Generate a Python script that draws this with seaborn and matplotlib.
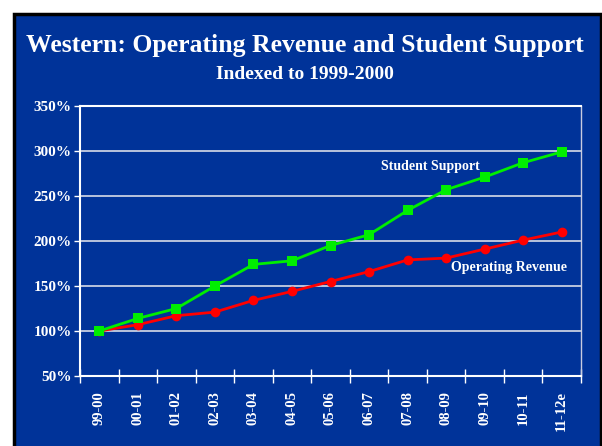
import seaborn as sns
import matplotlib.pyplot as plt
import pandas as pd
from matplotlib.patches import Rectangle
from matplotlib.ticker import FuncFormatter, MultipleLocator

years = ["99-00", "00-01", "01-02", "02-03", "03-04", "04-05", "05-06",
         "06-07", "07-08", "08-09", "09-10", "10-11", "11-12e"]
student_support = [100, 114, 125, 150, 174, 178, 195, 207, 234, 257, 271, 287, 299]
operating_revenue = [100, 107, 117, 121, 134, 144, 155, 166, 179, 181, 191, 201, 210]

df = pd.DataFrame({"year": years, "x": range(len(years)),
                   "Student Support": student_support,
                   "Operating Revenue": operating_revenue})

blue = "#003399"
sns.set_style("white")
plt.rcParams["font.family"] = ["Liberation Serif", "DejaVu Serif"]

fig = plt.figure(figsize=(6.02, 4.46), dpi=100, facecolor="white")
# slide background with dark border
fig.patches.append(Rectangle((14 / 602, -0.01), 587 / 602, 0.99 * 436 / 446 + 0.01,
                             transform=fig.transFigure, facecolor=blue, edgecolor="black",
                             linewidth=2.5, zorder=-10))

ax = fig.add_axes([80 / 602, 70 / 446, 501 / 602, 270 / 446])
ax.set_facecolor(blue)

sns.lineplot(data=df, x="x", y="Operating Revenue", ax=ax, color="#ff0000",
             marker="o", markersize=7, markeredgewidth=0, linewidth=2, zorder=3)
sns.lineplot(data=df, x="x", y="Student Support", ax=ax, color="#00ee00",
             marker="s", markersize=7, markeredgewidth=0, linewidth=2, zorder=4)

ax.set_xlim(-0.5, len(years) - 0.5)
ax.set_ylim(50, 350)
ax.yaxis.set_major_locator(MultipleLocator(50))
ax.yaxis.set_major_formatter(FuncFormatter(lambda v, p: f"{v:.0f}%"))
ax.grid(axis="y", color="#d8dce8", linewidth=1.2)
ax.set_axisbelow(True)

ax.set_xticks(range(len(years)))
ax.set_xticklabels(years, rotation=90)
ax.set_xticks([i - 0.5 for i in range(len(years) + 1)], minor=True)
ax.tick_params(axis="x", which="major", length=0, pad=11, labelsize=10.5, colors="white",
               bottom=True)
ax.tick_params(axis="x", which="minor", length=10, width=1, direction="inout", color="white",
               bottom=True)
ax.tick_params(axis="y", which="major", length=4, width=1, direction="out", color="white",
               labelsize=11, labelcolor="white", left=True, pad=2)
for lab in ax.get_xticklabels() + ax.get_yticklabels():
    lab.set_fontweight("bold")

for side in ["left", "bottom", "top"]:
    ax.spines[side].set_color("white")
    ax.spines[side].set_linewidth(1.5)
ax.spines["right"].set_color("#c8cce0")
ax.spines["right"].set_linewidth(1)
ax.set_xlabel("")
ax.set_ylabel("")

ax.text(8.6, 283, "Student Support", color="white", fontsize=10, fontweight="bold",
        ha="center", va="center")
ax.text(10.62, 170, "Operating Revenue", color="white", fontsize=10, fontweight="bold",
        ha="center", va="center")

fig.text(0.507, 0.899, "Western: Operating Revenue and Student Support", color="white",
         fontsize=18.5, fontweight="bold", ha="center", va="center")
fig.text(0.507, 0.834, "Indexed to 1999-2000", color="white",
         fontsize=14, fontweight="bold", ha="center", va="center")

fig.savefig("out.png", dpi=100, facecolor="white")
